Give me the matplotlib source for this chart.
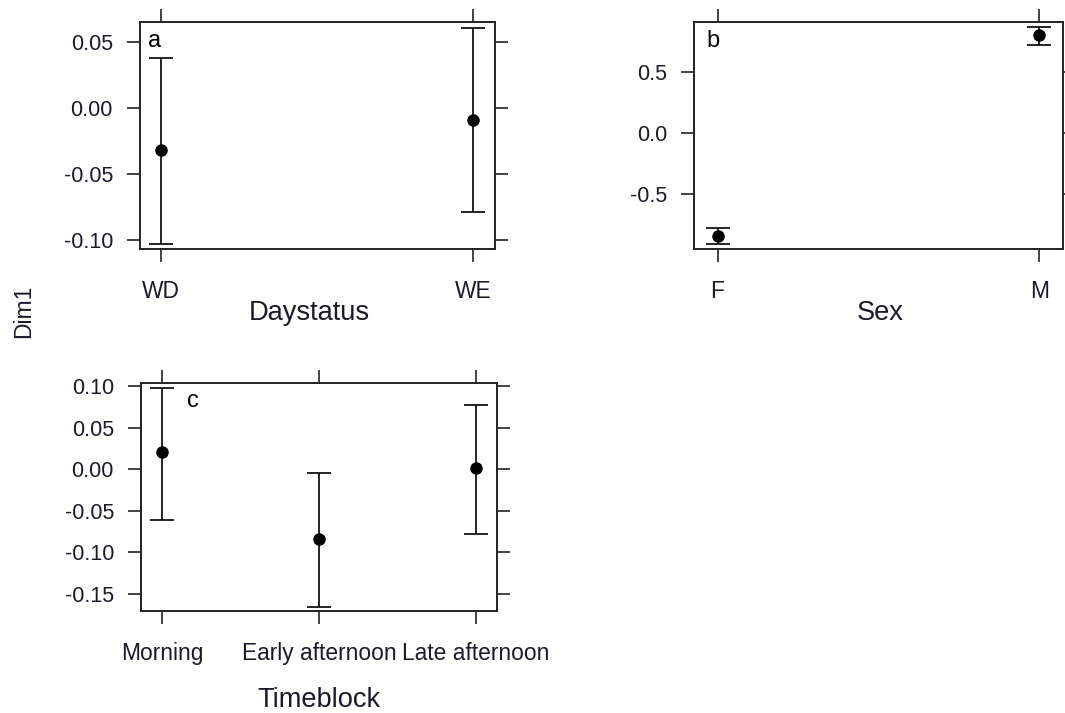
import matplotlib
matplotlib.use("Agg")
import matplotlib.pyplot as plt

plt.rcParams['font.family'] = ['Liberation Sans', 'DejaVu Sans']

# effect estimates with 95% limits
day_levels = ["WD", "WE"]
day_fit = [-0.032, -0.009]
day_lower = [-0.103, -0.079]
day_upper = [0.038, 0.061]

sex_levels = ["F", "M"]
sex_fit = [-0.843, 0.800]
sex_lower = [-0.910, 0.719]
sex_upper = [-0.779, 0.865]

time_levels = ["Morning", "Early afternoon", "Late afternoon"]
time_fit = [0.021, -0.084, 0.001]
time_lower = [-0.061, -0.166, -0.078]
time_upper = [0.098, -0.005, 0.078]

W, H = 1065, 713
fig = plt.figure(figsize=(W / 100, H / 100), dpi=100)


def panel(rect, levels, fit, lower, upper, xlim, ylim, yticks, fmt):
    ax = fig.add_axes(rect)
    x = list(range(1, len(levels) + 1))
    err = [[f - l for f, l in zip(fit, lower)], [u - f for f, u in zip(fit, upper)]]
    ax.errorbar(x, fit, yerr=err, fmt='o', color='black', ms=8, elinewidth=1.2,
                capsize=8.5, capthick=1.2)
    ax.set_xlim(*xlim)
    ax.set_ylim(*ylim)
    ax.set_xticks(x)
    ax.set_xticklabels(levels)
    ax.set_yticks(yticks)
    ax.set_yticklabels([fmt.format(v) for v in yticks])
    ax.tick_params(direction='out', length=9.5, width=1.2, top=True, right=True,
                   labeltop=False, labelright=False, labelsize=15.5, pad=10,
                   colors='#222222', labelcolor='#1a1a2a')
    ax.tick_params(axis='x', pad=13, labelsize=16.4)
    for s in ax.spines.values():
        s.set_linewidth(1.4)
        s.set_color('#222222')
    return ax


def fr(x0, y0, x1, y1):
    return [x0 / W, 1 - y1 / H, (x1 - x0) / W, (y1 - y0) / H]


ax_a = panel(fr(140, 22, 495, 249), day_levels, day_fit, day_lower, day_upper,
             (0.934, 2.069), (-0.1068, 0.0652), [-0.10, -0.05, 0.00, 0.05], "{:.2f}")
ax_b = panel(fr(694, 22, 1063, 249), sex_levels, sex_fit, sex_lower, sex_upper,
             (0.927, 2.073), (-0.951, 0.91), [-0.5, 0.0, 0.5], "{:.1f}")
ax_c = panel(fr(141, 383, 497, 611), time_levels, time_fit, time_lower, time_upper,
             (0.863, 3.137), (-0.171, 0.104),
             [-0.15, -0.10, -0.05, 0.00, 0.05, 0.10], "{:.2f}")

# axis titles
fig.text(309 / W, 1 - 320 / H, "Daystatus", fontsize=19.6, ha='center', va='baseline', color='#1a1a2a')
fig.text(880 / W, 1 - 320 / H, "Sex", fontsize=19.6, ha='center', va='baseline', color='#1a1a2a')
fig.text(319 / W, 1 - 707 / H, "Timeblock", fontsize=19.6, ha='center', va='baseline', color='#1a1a2a')
fig.text(24 / W, 1 - 311 / H, "Dim1", fontsize=16.5, rotation=90, ha='center', va='center', color='#1a1a2a')

# panel letters
fig.text(155 / W, 1 - 41 / H, "a", fontsize=17, ha='center', va='center')
fig.text(713 / W, 1 - 41 / H, "b", fontsize=17, ha='center', va='center')
fig.text(193 / W, 1 - 401 / H, "c", fontsize=17, ha='center', va='center')

fig.savefig("out.png", dpi=100)
